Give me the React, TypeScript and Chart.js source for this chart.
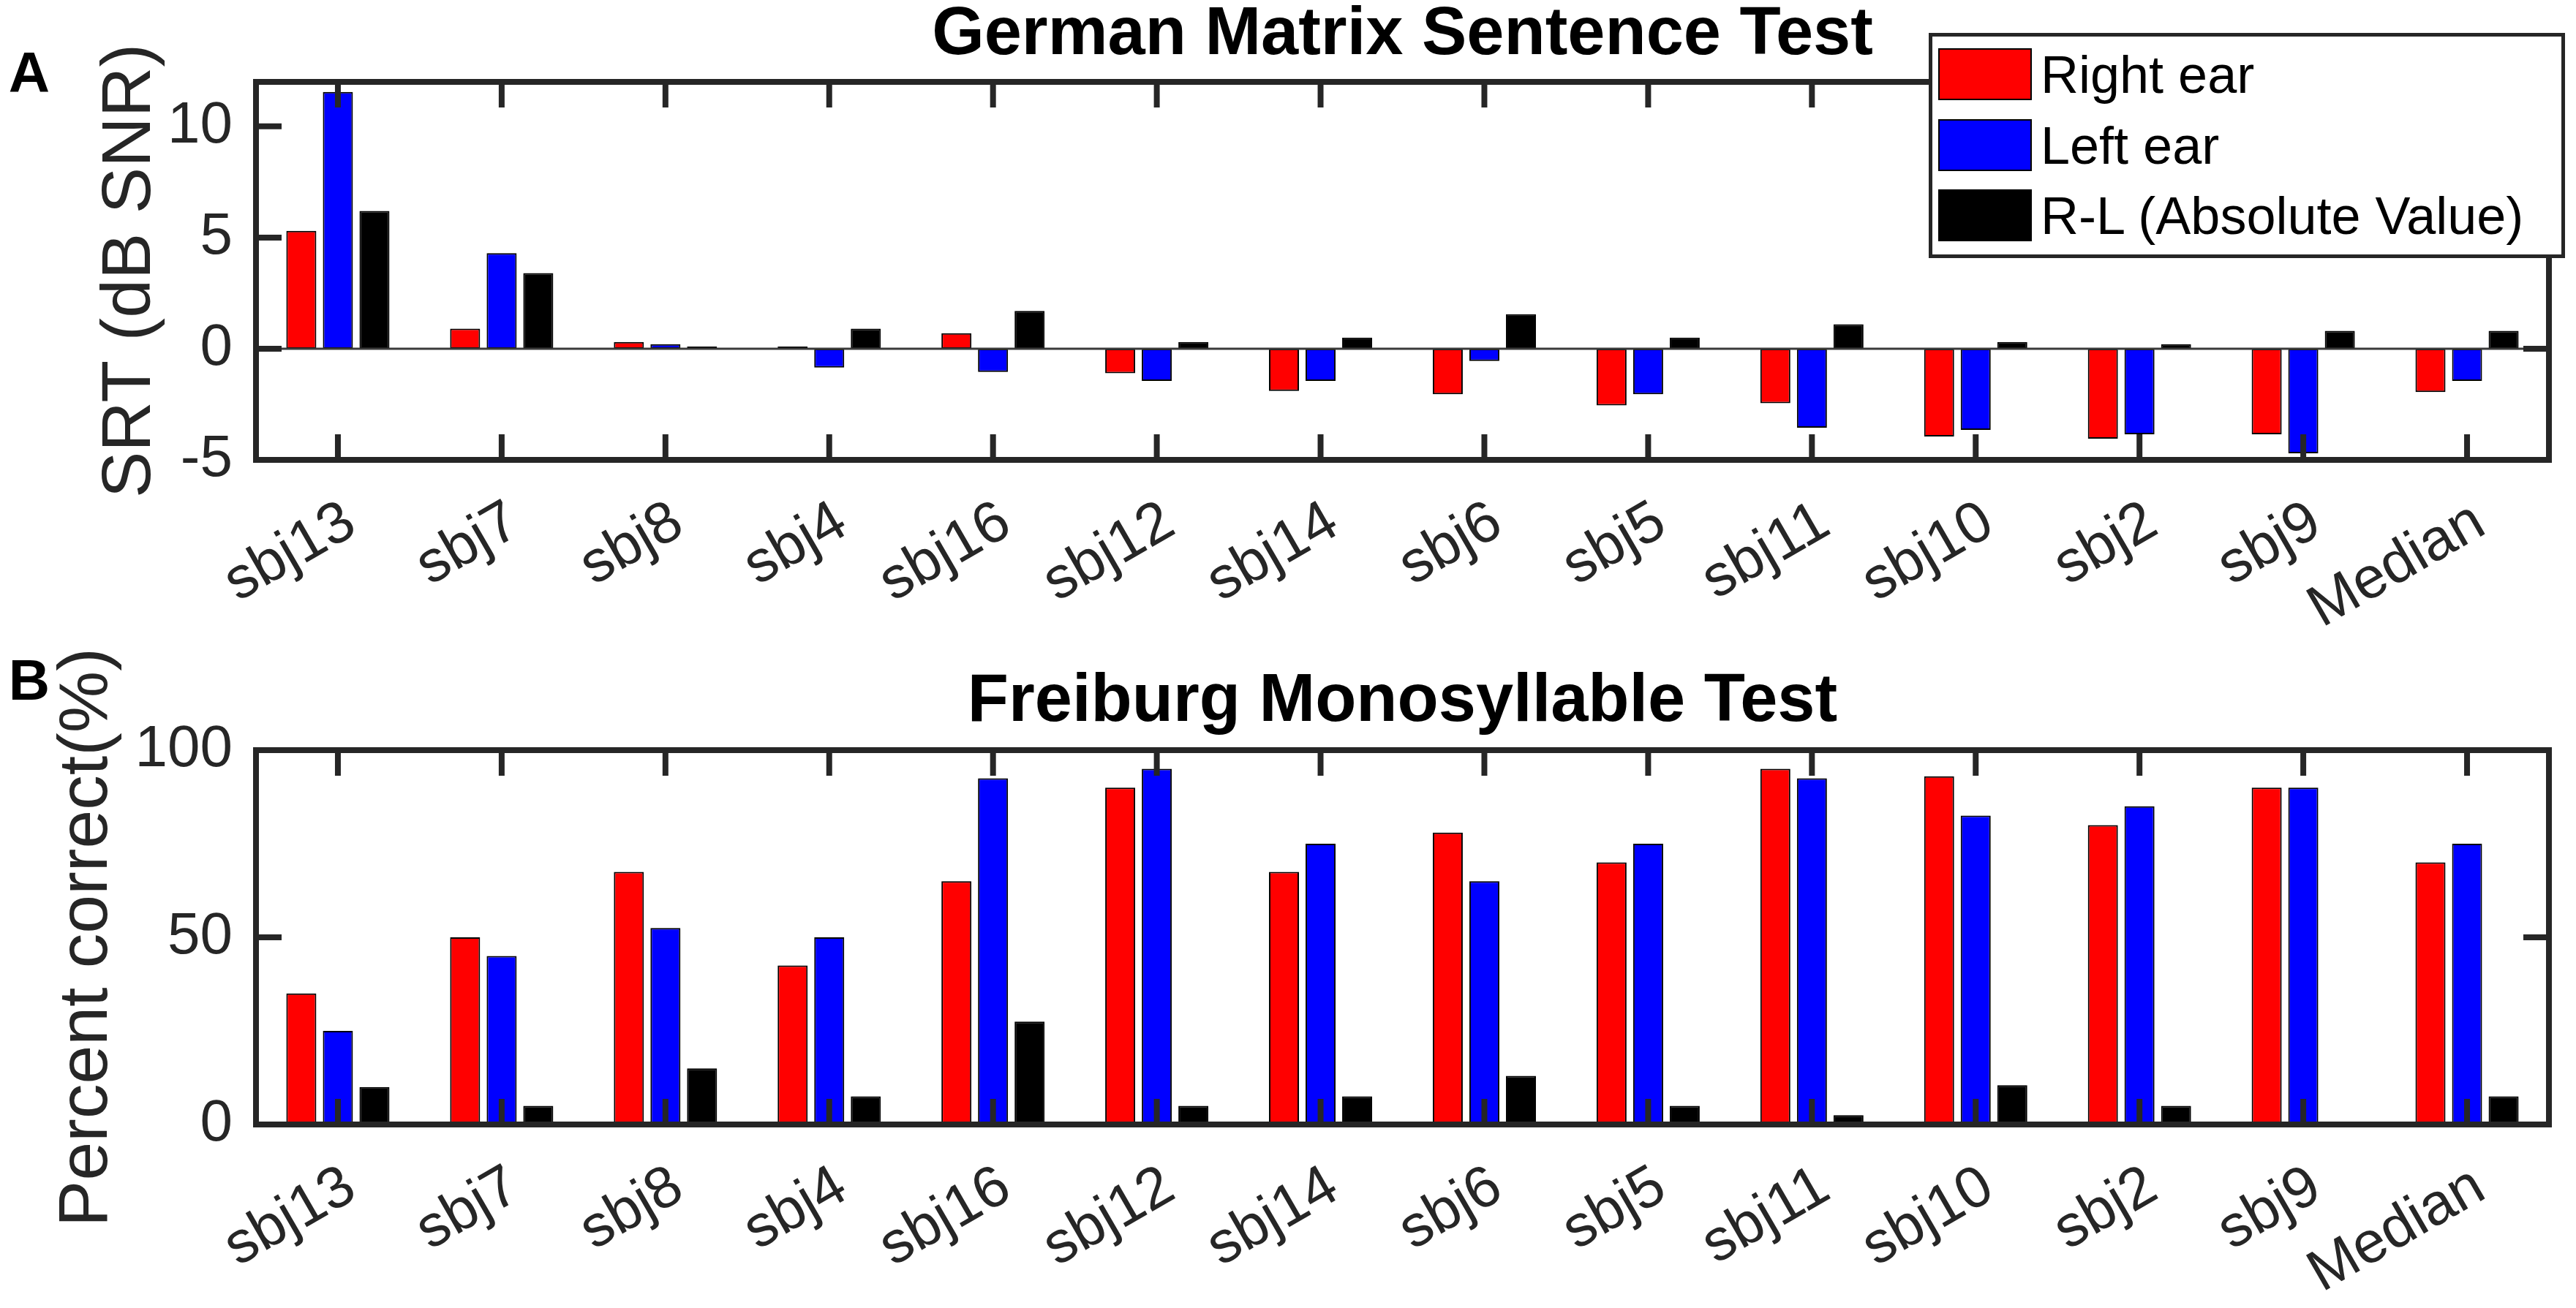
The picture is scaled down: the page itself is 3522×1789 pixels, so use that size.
import { useEffect, useRef } from "react";
import { Chart, registerables } from "chart.js";
Chart.register(...registerables);

// subjects, sorted as in the figure
const subjects = ["sbj13", "sbj7", "sbj8", "sbj4", "sbj16", "sbj12", "sbj14", "sbj6", "sbj5", "sbj11", "sbj10", "sbj2", "sbj9", "Median"];

// German Matrix Sentence Test, SRT in dB SNR
const srtRight = [5.3, 0.9, 0.3, 0.1, 0.7, -1.1, -1.9, -2.05, -2.55, -2.45, -3.95, -4.05, -3.85, -1.95];
const srtLeft = [11.55, 4.3, 0.2, -0.85, -1.05, -1.45, -1.45, -0.55, -2.05, -3.55, -3.65, -3.85, -4.7, -1.45];
const srtDiff = [6.2, 3.4, 0.1, 0.9, 1.7, 0.3, 0.5, 1.55, 0.5, 1.1, 0.3, 0.2, 0.8, 0.8];
const srtTicks = [-5, 0, 5, 10];

// Freiburg Monosyllable Test, percent correct
const fmtRight = [35, 50, 67.5, 42.5, 65, 90, 67.5, 78, 70, 95, 93, 80, 90, 70];
const fmtLeft = [25, 45, 52.5, 50, 92.5, 95, 75, 65, 75, 92.5, 82.5, 85, 90, 75];
const fmtDiff = [10, 5, 15, 7.5, 27.5, 5, 7.5, 13, 5, 2.5, 10.5, 5, 0, 7.5];
const pctTicks = [0, 50, 100];

const seriesLabels = ["Right ear", "Left ear", "R-L (Absolute Value)"];
const seriesColors = ["#ff0000", "#0000ff", "#000000"];

const FONT = "'Liberation Sans', Arial, Helvetica, sans-serif";
const AXIS = "#262626";
const TICK_LEN = 35;

// matlab style box with inward ticks, drawn over the bars
const framePlugin = {
  id: "matlabFrame",
  afterDatasetsDraw(chart, _args, opts) {
    const { ctx, chartArea, scales } = chart;
    const { left, right, top, bottom } = chartArea;
    const x = scales.x;
    const y = scales.y;
    const line = (x1, y1, x2, y2) => {
      ctx.beginPath();
      ctx.moveTo(x1, y1);
      ctx.lineTo(x2, y2);
      ctx.stroke();
    };
    ctx.save();
    if (opts.zeroLine) {
      const y0 = y.getPixelForValue(0);
      ctx.strokeStyle = "#3a3a3a";
      ctx.lineWidth = 3;
      line(left, y0, right, y0);
    }
    ctx.strokeStyle = AXIS;
    ctx.lineWidth = 8;
    x.ticks.forEach((_t, i) => {
      const px = x.getPixelForTick(i);
      line(px, top, px, top + TICK_LEN);
      line(px, bottom, px, bottom - TICK_LEN);
    });
    y.ticks.forEach((t) => {
      const py = y.getPixelForValue(t.value);
      line(left, py, left + TICK_LEN, py);
      line(right, py, right - TICK_LEN, py);
    });
    ctx.strokeRect(left, top, right - left, bottom - top);
    ctx.fillStyle = "#000";
    ctx.font = `bold 78px ${FONT}`;
    ctx.textAlign = "center";
    ctx.textBaseline = "middle";
    ctx.fillText(opts.letter, opts.letterX, opts.letterY);
    ctx.restore();
  },
};

function Panel({ top, height, title, yTitle, right, left, diff, yMin, yMax, yTicks, letter, letterY, titlePad, yTitlePad, zeroLine }) {
  const canvasRef = useRef(null);
  const chartRef = useRef(null);

  useEffect(() => {
    const ctx = canvasRef.current?.getContext("2d");
    const values = [right, left, diff];
    chartRef.current = new Chart(ctx, {
      type: "bar",
      data: {
        labels: subjects,
        datasets: values.map((data, i) => ({
          label: seriesLabels[i],
          data,
          backgroundColor: seriesColors[i],
          borderColor: "#000",
          borderWidth: 2,
          borderSkipped: false,
          categoryPercentage: 0.67,
          barPercentage: 0.82,
        })),
      },
      options: {
        animation: false,
        responsive: true,
        maintainAspectRatio: false,
        layout: { padding: { left: 0, right: 37, top: 0, bottom: 0 } },
        plugins: {
          legend: { display: false },
          tooltip: { enabled: false },
          title: {
            display: true,
            text: title,
            fullSize: false,
            color: "#000",
            font: { family: FONT, size: 92, weight: "bold", lineHeight: 1 },
            padding: titlePad,
          },
          matlabFrame: { letter, letterX: 40, letterY, zeroLine },
        },
        scales: {
          x: {
            type: "category",
            offset: true,
            grid: { display: false, drawTicks: false },
            border: { display: false },
            ticks: {
              autoSkip: false,
              minRotation: 30,
              maxRotation: 30,
              padding: 38,
              labelOffset: 18,
              color: AXIS,
              font: { family: FONT, size: 80 },
            },
            afterFit: (s) => {
              s.height = 251;
            },
          },
          y: {
            min: yMin,
            max: yMax,
            grid: { display: false, drawTicks: false },
            border: { display: false },
            afterBuildTicks: (s) => {
              s.ticks = yTicks.map((v) => ({ value: v }));
            },
            ticks: { padding: 32, color: AXIS, font: { family: FONT, size: 80 } },
            title: {
              display: true,
              text: yTitle,
              color: AXIS,
              font: { family: FONT, size: 95, lineHeight: 1 },
              padding: { top: yTitlePad, bottom: 0 },
            },
            afterFit: (s) => {
              s.width = 350;
            },
          },
        },
      },
      plugins: [framePlugin],
    });
    return () => {
      chartRef.current?.destroy();
    };
  }, []);

  return (
    <div style={{ position: "absolute", left: 0, top, width: 3522, height }}>
      <canvas ref={canvasRef} />
    </div>
  );
}

function Legend() {
  const rowTops = [16, 113, 209];
  return (
    <div
      style={{
        position: "absolute",
        left: 2637,
        top: 45,
        width: 860,
        height: 298,
        border: `5px solid ${AXIS}`,
        background: "#fff",
        fontFamily: FONT,
      }}
    >
      {seriesLabels.map((lab, i) => (
        <div key={lab} style={{ position: "absolute", left: 8, top: rowTops[i], height: 71, display: "flex", alignItems: "center", whiteSpace: "nowrap" }}>
          <div style={{ width: 124, height: 67, background: seriesColors[i], border: "2px solid #000" }} />
          <span style={{ marginLeft: 12, fontSize: 72, color: "#000", lineHeight: 1 }}>{lab}</span>
        </div>
      ))}
    </div>
  );
}

export default function App() {
  return (
    <div style={{ position: "absolute", left: 0, top: 0, width: 3522, height: 1789, background: "#fff", overflow: "hidden" }}>
      <Panel
        top={0}
        height={880}
        title="German Matrix Sentence Test"
        yTitle="SRT (dB SNR)"
        right={srtRight}
        left={srtLeft}
        diff={srtDiff}
        yMin={-5}
        yMax={12}
        yTicks={srtTicks}
        letter="A"
        letterY={104}
        titlePad={{ top: 3, bottom: 17 }}
        yTitlePad={131}
        zeroLine={true}
      />
      <Panel
        top={880}
        height={909}
        title="Freiburg Monosyllable Test"
        yTitle="Percent correct(%)"
        right={fmtRight}
        left={fmtLeft}
        diff={fmtDiff}
        yMin={0}
        yMax={100}
        yTicks={pctTicks}
        letter="B"
        letterY={55}
        titlePad={{ top: 35, bottom: 19 }}
        yTitlePad={72}
        zeroLine={false}
      />
      <Legend />
    </div>
  );
}
